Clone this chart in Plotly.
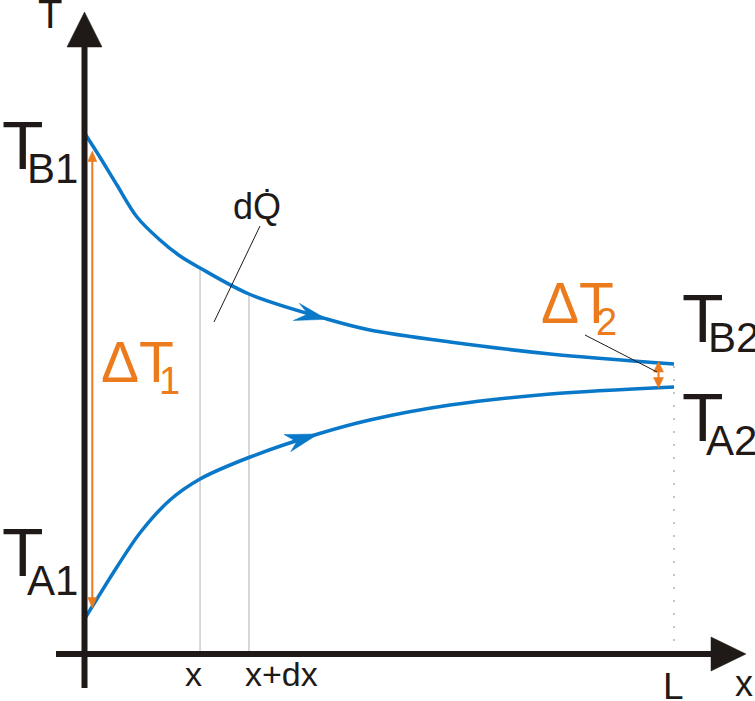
import plotly.graph_objects as go

# ---------------- data ----------------
L = 1.0
x_hot = [0.0, 0.026, 0.055, 0.089, 0.128, 0.162, 0.196, 0.279, 0.411, 0.484, 0.620, 0.790, 1.0]
T_hot = [521, 497, 469, 437, 414, 398, 386, 360, 335, 324, 312, 300, 290]
x_cold = [0.0, 0.021, 0.055, 0.094, 0.145, 0.196, 0.281, 0.396, 0.484, 0.620, 0.790, 1.0]
T_cold = [35, 55, 87, 121, 154, 175, 197, 220, 234, 249, 260, 267]
x_slice = [0.196, 0.279]          # x and x+dx
T_slice_top = [386, 360]
x_tick_labels = ["x", "x+dx"]

# ---------------- pixel <-> data helpers (layout only) ----------------
W, H = 755, 701
OX, OY, SX = 84.5, 654.0, 589.5


def X(px):
    return (px - OX) / SX


def Y(py):
    return OY - py


BLUE = "#0a78c8"
ORANGE = "#eb7b1c"
INK = "#1f1a17"
GREY = "#c4c4c4"
FONT = "Liberation Sans, Arial, sans-serif"

fig = go.Figure()

# curves
fig.add_trace(go.Scatter(x=x_hot, y=T_hot, mode="lines",
                         line=dict(color=BLUE, width=3.5, shape="spline", smoothing=0.9),
                         hoverinfo="skip", showlegend=False))
fig.add_trace(go.Scatter(x=x_cold, y=T_cold, mode="lines",
                         line=dict(color=BLUE, width=3.5, shape="spline", smoothing=0.9),
                         hoverinfo="skip", showlegend=False))

shapes = []


def path(pts, color):
    d = "M " + " L ".join(f"{X(a)},{Y(b)}" for a, b in pts) + " Z"
    return dict(type="path", path=d, xref="x", yref="y", fillcolor=color,
                line=dict(color=color, width=0.5), layer="above")


def seg(p0, p1, color, width, dash=None):
    ln = dict(color=color, width=width)
    if dash:
        ln["dash"] = dash
    return dict(type="line", xref="x", yref="y", x0=X(p0[0]), y0=Y(p0[1]),
                x1=X(p1[0]), y1=Y(p1[1]), line=ln, layer="above")


# slice lines x and x+dx (from hot curve down to axis)
for xs, ts in zip(x_slice, T_slice_top):
    shapes.append(dict(type="line", xref="x", yref="y", x0=xs, x1=xs, y0=0, y1=ts,
                       line=dict(color=GREY, width=1.3), layer="below"))
# dotted line at L
shapes.append(dict(type="line", xref="x", yref="y", x0=L, x1=L, y0=0, y1=Y(356),
                   line=dict(color="#b4b4b4", width=1.5, dash="2px,11px"), layer="below"))

# axes
shapes.append(seg((84.5, 688), (84.5, 46), INK, 6))
shapes.append(seg((56, 654), (712, 654), INK, 6))
shapes.append(path([(84.5, 12), (102, 47), (67, 47)], INK))
shapes.append(path([(746, 654), (711, 637), (711, 671)], INK))

# flow arrows on curves
shapes.append(path([(327, 319.3), (299.3, 303.3), (308, 314), (293.3, 320.5)], BLUE))
shapes.append(path([(318.3, 434), (284, 434.5), (296.7, 441.7), (290.7, 451.7)], BLUE))

# delta T1 arrow
shapes.append(seg((92.3, 158), (92.3, 602), ORANGE, 2))
shapes.append(path([(92.3, 151), (96.8, 161.5), (87.8, 161.5)], ORANGE))
shapes.append(path([(92.3, 608), (96.8, 597.5), (87.8, 597.5)], ORANGE))
# delta T2 arrow
shapes.append(seg((658.5, 366), (658.5, 383), ORANGE, 2))
shapes.append(path([(658.5, 361.5), (663.5, 372), (653.5, 372)], ORANGE))
shapes.append(path([(658.5, 388), (663.5, 377.5), (653.5, 377.5)], ORANGE))

# leader lines
shapes.append(seg((260, 226), (214, 322), INK, 1))
shapes.append(seg((585, 335), (657, 372), INK, 1))

annotations = []


def txt(s, px, py, size, color=INK, xanchor="left"):
    annotations.append(dict(text=s, x=X(px), y=Y(py), xref="x", yref="y",
                            xanchor=xanchor, yanchor="middle", showarrow=False,
                            font=dict(family=FONT, size=size, color=color)))


txt("T", 50, 14, 40, xanchor="center")
txt("T", 0, 145, 68)
txt("B1", 25, 168, 42)
txt("T", 0, 552, 68)
txt("A1", 25, 580.5, 42)
txt("T", 680, 318, 68)
txt("B2", 706, 337.5, 42)
txt("T", 680, 417, 68)
txt("A2", 704, 440.5, 42)
txt("ΔT", 99, 361.5, 57, ORANGE)
txt("1", 157, 381, 38, ORANGE)
txt("ΔT", 539, 302.5, 57, ORANGE)
txt("2", 594, 321.5, 38, ORANGE)
txt("dQ̇", 231, 206.5, 36)
txt(x_tick_labels[0], 193.5, 674, 34, xanchor="center")
txt(x_tick_labels[1], 243, 674, 34)
txt("L", 661, 686.5, 37)
txt("x", 733, 683, 36)

fig.update_layout(
    width=W, height=H, autosize=False,
    margin=dict(l=0, r=0, t=0, b=0, pad=0),
    paper_bgcolor="white", plot_bgcolor="white",
    xaxis=dict(range=[X(0), X(W)], visible=False, fixedrange=True),
    yaxis=dict(range=[Y(H), Y(0)], visible=False, fixedrange=True),
    shapes=shapes, annotations=annotations, showlegend=False,
)

fig.write_html("out.html", config={"displayModeBar": False},
               post_script="document.body.style.margin='0';document.body.style.overflow='hidden';")
